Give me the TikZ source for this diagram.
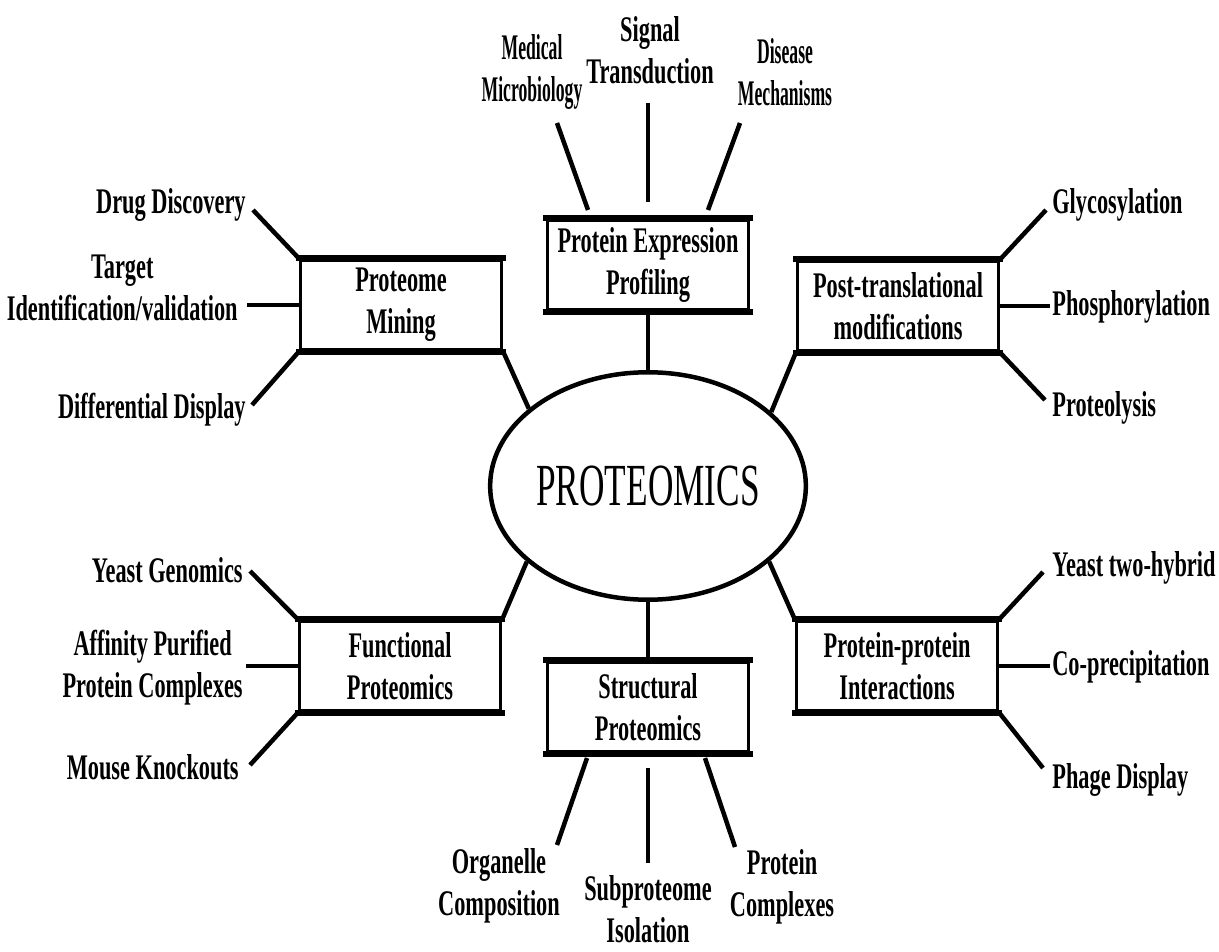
\documentclass[tikz,border=0pt]{standalone}
\usepackage{fontspec}
\usepackage{tikz}
\usetikzlibrary{shapes.geometric}
\newfontfamily\lblfont{Liberation Serif}[FakeStretch=0.62]
\newfontfamily\narrowfont{Liberation Serif}[FakeStretch=0.49]
\newfontfamily\titlefont{Liberation Serif}[FakeStretch=0.59]
\begin{document}
\begin{tikzpicture}[x=0.02cm,y=-0.02cm,
  lbl/.style={font=\lblfont\bfseries\fontsize{20.5}{24}\selectfont, inner sep=0pt, align=center},
  nlbl/.style={font=\narrowfont\bfseries\fontsize{20.5}{24}\selectfont, inner sep=0pt, align=center},
  box/.style={draw, line width=0.07cm, minimum width=4.02cm, minimum height=1.8cm, inner sep=0pt, align=center,
              font=\lblfont\bfseries\fontsize{20.5}{24}\selectfont},
  conn/.style={line width=0.09cm},
  boxedge/.style={line width=0.12cm, line cap=rect}
]
\fill[white] (0,0) rectangle (1219,952);
\useasboundingbox (0,0) rectangle (1219,952);

% central ellipse
\node[draw, ellipse, line width=0.09cm, minimum width=5.17cm, minimum height=4.55cm, inner sep=0pt,
      font=\titlefont\fontsize{34}{40}\selectfont] (ell) at (648,486) {PROTEOMICS};

% boxes
\node[box] (pep) at (648,265) {Protein Expression\\Profiling};
\node[box] (pm)  at (401,305) {Proteome\\Mining};
\node[box] (ptm) at (898,306) {Post-translational\\modifications};
\node[box] (fp)  at (400,666) {Functional\\Proteomics};
\node[box] (ppi) at (897,666) {Protein-protein\\Interactions};
\node[box] (sp)  at (648,707) {Structural\\Proteomics};

% heavier top and bottom edges of boxes
\foreach \b in {pep,pm,ptm,fp,ppi,sp}{
  \draw[boxedge] (\b.north west) -- (\b.north east);
  \draw[boxedge] (\b.south west) -- (\b.south east);
}

% boxes to ellipse
\draw[conn] (pep.south) -- (ell.north);
\draw[conn] (sp.north) -- (ell.south);
\draw[conn] (pm.south east) -- (ell.147);
\draw[conn] (ptm.south west) -- (ell.31.5);
\draw[conn] (fp.north east) -- (ell.212);
\draw[conn] (ppi.north west) -- (ell.328.4);

% Protein Expression Profiling
\node[nlbl] (med) at (532,72) {Medical\\Microbiology};
\node[lbl] (sig) at (650,50) {Signal\\Transduction};
\node[nlbl] (dis) at (785,72) {Disease\\Mechanisms};
\coordinate (medA) at (557,123); \coordinate (medB) at (588,210);
\coordinate (sigA) at (648,103); \coordinate (sigB) at (648,202);
\coordinate (disA) at (740,123); \coordinate (disB) at (708,210);
\draw[conn] (medA) -- (medB);
\draw[conn] (sigA) -- (sigB);
\draw[conn] (disA) -- (disB);

% Proteome Mining
\node[lbl, anchor=east] (drug) at (246,205) {Drug Discovery};
\node[lbl, anchor=east] (target) at (238,288) {Target\\Identification/validation};
\node[lbl, anchor=east] (diff) at (246,410) {Differential Display};
\coordinate (drugE) at (253,210);
\coordinate (targetE) at (247,305);
\coordinate (diffE) at (252,405);
\draw[conn] (drugE) -- (pm.north west);
\draw[conn] (targetE) -- (pm.west);
\draw[conn] (diffE) -- (pm.south west);

% Post-translational modifications
\node[lbl, anchor=west] (gly) at (1052,205) {Glycosylation};
\node[lbl, anchor=west] (pho) at (1052,307) {Phosphorylation};
\node[lbl, anchor=west] (prl) at (1052,408) {Proteolysis};
\coordinate (glyE) at (1046,210);
\coordinate (phoE) at (1050,306);
\coordinate (prlE) at (1045,400);
\draw[conn] (ptm.north east) -- (glyE);
\draw[conn] (ptm.east) -- (phoE);
\draw[conn] (ptm.south east) -- (prlE);

% Functional Proteomics
\node[lbl, anchor=east] (yg) at (243,570) {Yeast Genomics};
\node[lbl, anchor=east] (aff) at (243,668) {Affinity Purified\\Protein Complexes};
\node[lbl, anchor=east] (mk) at (239,767) {Mouse Knockouts};
\coordinate (ygE) at (250,571);
\coordinate (affE) at (246,666);
\coordinate (mkE) at (250,765);
\draw[conn] (ygE) -- (fp.north west);
\draw[conn] (affE) -- (fp.west);
\draw[conn] (mkE) -- (fp.south west);

% Protein-protein Interactions
\node[lbl, anchor=west] (y2h) at (1052,568) {Yeast two-hybrid};
\node[lbl, anchor=west] (cop) at (1052,667) {Co-precipitation};
\node[lbl, anchor=west] (phd) at (1052,780) {Phage Display};
\coordinate (y2hE) at (1043,572);
\coordinate (copE) at (1050,666);
\coordinate (phdE) at (1043,768);
\draw[conn] (ppi.north east) -- (y2hE);
\draw[conn] (ppi.east) -- (copE);
\draw[conn] (ppi.south east) -- (phdE);

% Structural Proteomics
\node[lbl] (org) at (499,886) {Organelle\\Composition};
\node[lbl] (sub) at (648,909) {Subproteome\\Isolation};
\node[lbl] (pc)  at (782,887) {Protein\\Complexes};
\coordinate (orgA) at (587,758); \coordinate (orgB) at (557,845);
\coordinate (subA) at (648,768); \coordinate (subB) at (648,863);
\coordinate (pcA)  at (705,758); \coordinate (pcB)  at (735,847);
\draw[conn] (orgA) -- (orgB);
\draw[conn] (subA) -- (subB);
\draw[conn] (pcA) -- (pcB);
\end{tikzpicture}
\end{document}
